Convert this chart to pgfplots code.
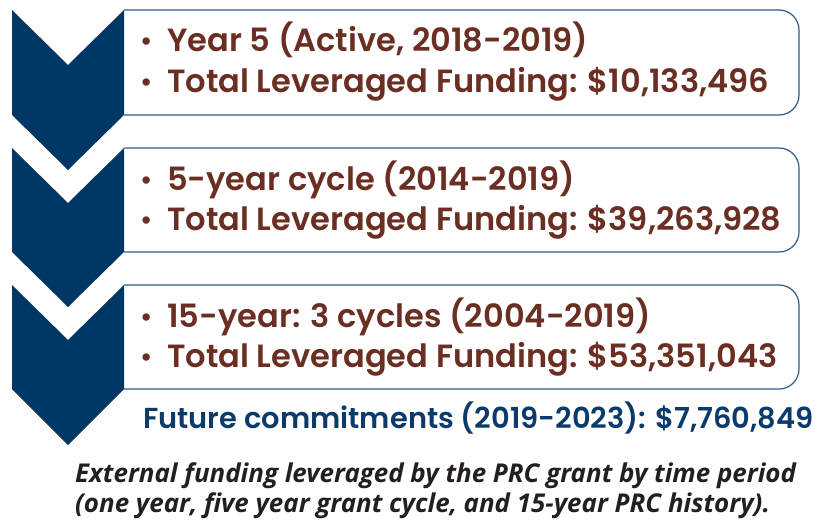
\documentclass[border=0pt]{standalone}
\usepackage{pgfplots}
\pgfplotsset{compat=1.18}
\usepackage{fontspec}
\setmainfont{Poppins}[BoldFont={Poppins SemiBold}]
\newfontfamily\capfont{Open Sans}
\definecolor{navy}{HTML}{003764}
\definecolor{brownt}{HTML}{6B2E22}
\definecolor{boxline}{HTML}{2E5C8A}
\definecolor{futtxt}{HTML}{0B3B6B}
\definecolor{captxt}{HTML}{231F20}
\begin{document}
\begin{tikzpicture}
\begin{axis}[width=828bp,height=523bp,scale only axis,hide axis,
  xmin=0,xmax=828,ymin=0,ymax=523,y dir=reverse,clip=false]
% frame (invisible) to fix the picture size
\addplot[draw=none,forget plot] coordinates {(0,0)(828,0)(828,523)(0,523)(0,0)};
% boxes
\addplot[boxline,line width=1.2bp,rounded corners=20bp] coordinates {(124,10)(799,10)(799,115)(124,115)};
\addplot[boxline,line width=1.2bp,rounded corners=20bp] coordinates {(124,148)(799,148)(799,252)(124,252)};
\addplot[boxline,line width=1.2bp,rounded corners=20bp] coordinates {(124,285)(799,285)(799,389)(124,389)};
% chevrons
\addplot[fill=navy,draw=none] coordinates {(12,10)(68,65)(124,10)(124,115)(68,170)(12,115)(12,10)};
\addplot[fill=navy,draw=none] coordinates {(12,148)(68,203)(124,148)(124,252)(68,307)(12,252)(12,148)};
\addplot[fill=navy,draw=none] coordinates {(12,285)(68,340)(124,285)(124,389)(68,445)(12,389)(12,285)};
% text
\tikzset{bl/.style={anchor=base west,inner sep=0pt,text=brownt,font=\fontsize{32.2}{32}\selectfont\bfseries},
         bu/.style={anchor=base,inner sep=0pt,text=brownt,font=\fontsize{30}{30}\selectfont}}
\node[bu] at (axis cs:147,52) {•};
\node[bl] at (axis cs:167,52) {Year 5 (Active, 2018-2019)};
\node[bu] at (axis cs:147,92) {•};
\node[bl] at (axis cs:167,92) {Total Leveraged Funding: \$10,133,496};
\node[bu] at (axis cs:147,190) {•};
\node[bl] at (axis cs:167,190) {5-year cycle (2014-2019)};
\node[bu] at (axis cs:147,230) {•};
\node[bl] at (axis cs:167,230) {Total Leveraged Funding: \$39,263,928};
\node[bu] at (axis cs:147,327) {•};
\node[bl] at (axis cs:167,327) {15-year: 3 cycles (2004-2019)};
\node[bu] at (axis cs:147,367) {•};
\node[bl] at (axis cs:167,367) {Total Leveraged Funding: \$53,351,043};
\node[anchor=base west,inner sep=0pt,text=futtxt,font=\fontsize{29}{29}\selectfont\bfseries] at (axis cs:143,428) {Future commitments (2019-2023): \$7,760,849};
\node[anchor=base west,inner sep=0pt,text=captxt,font=\capfont\fontsize{26}{26}\selectfont\bfseries\itshape] at (axis cs:75,482) {External funding leveraged by the PRC grant by time period};
\node[anchor=base west,inner sep=0pt,text=captxt,font=\capfont\fontsize{26}{26}\selectfont\bfseries\itshape] at (axis cs:75,512) {(one year, five year grant cycle, and 15-year PRC history).};
\end{axis}
\end{tikzpicture}
\end{document}
